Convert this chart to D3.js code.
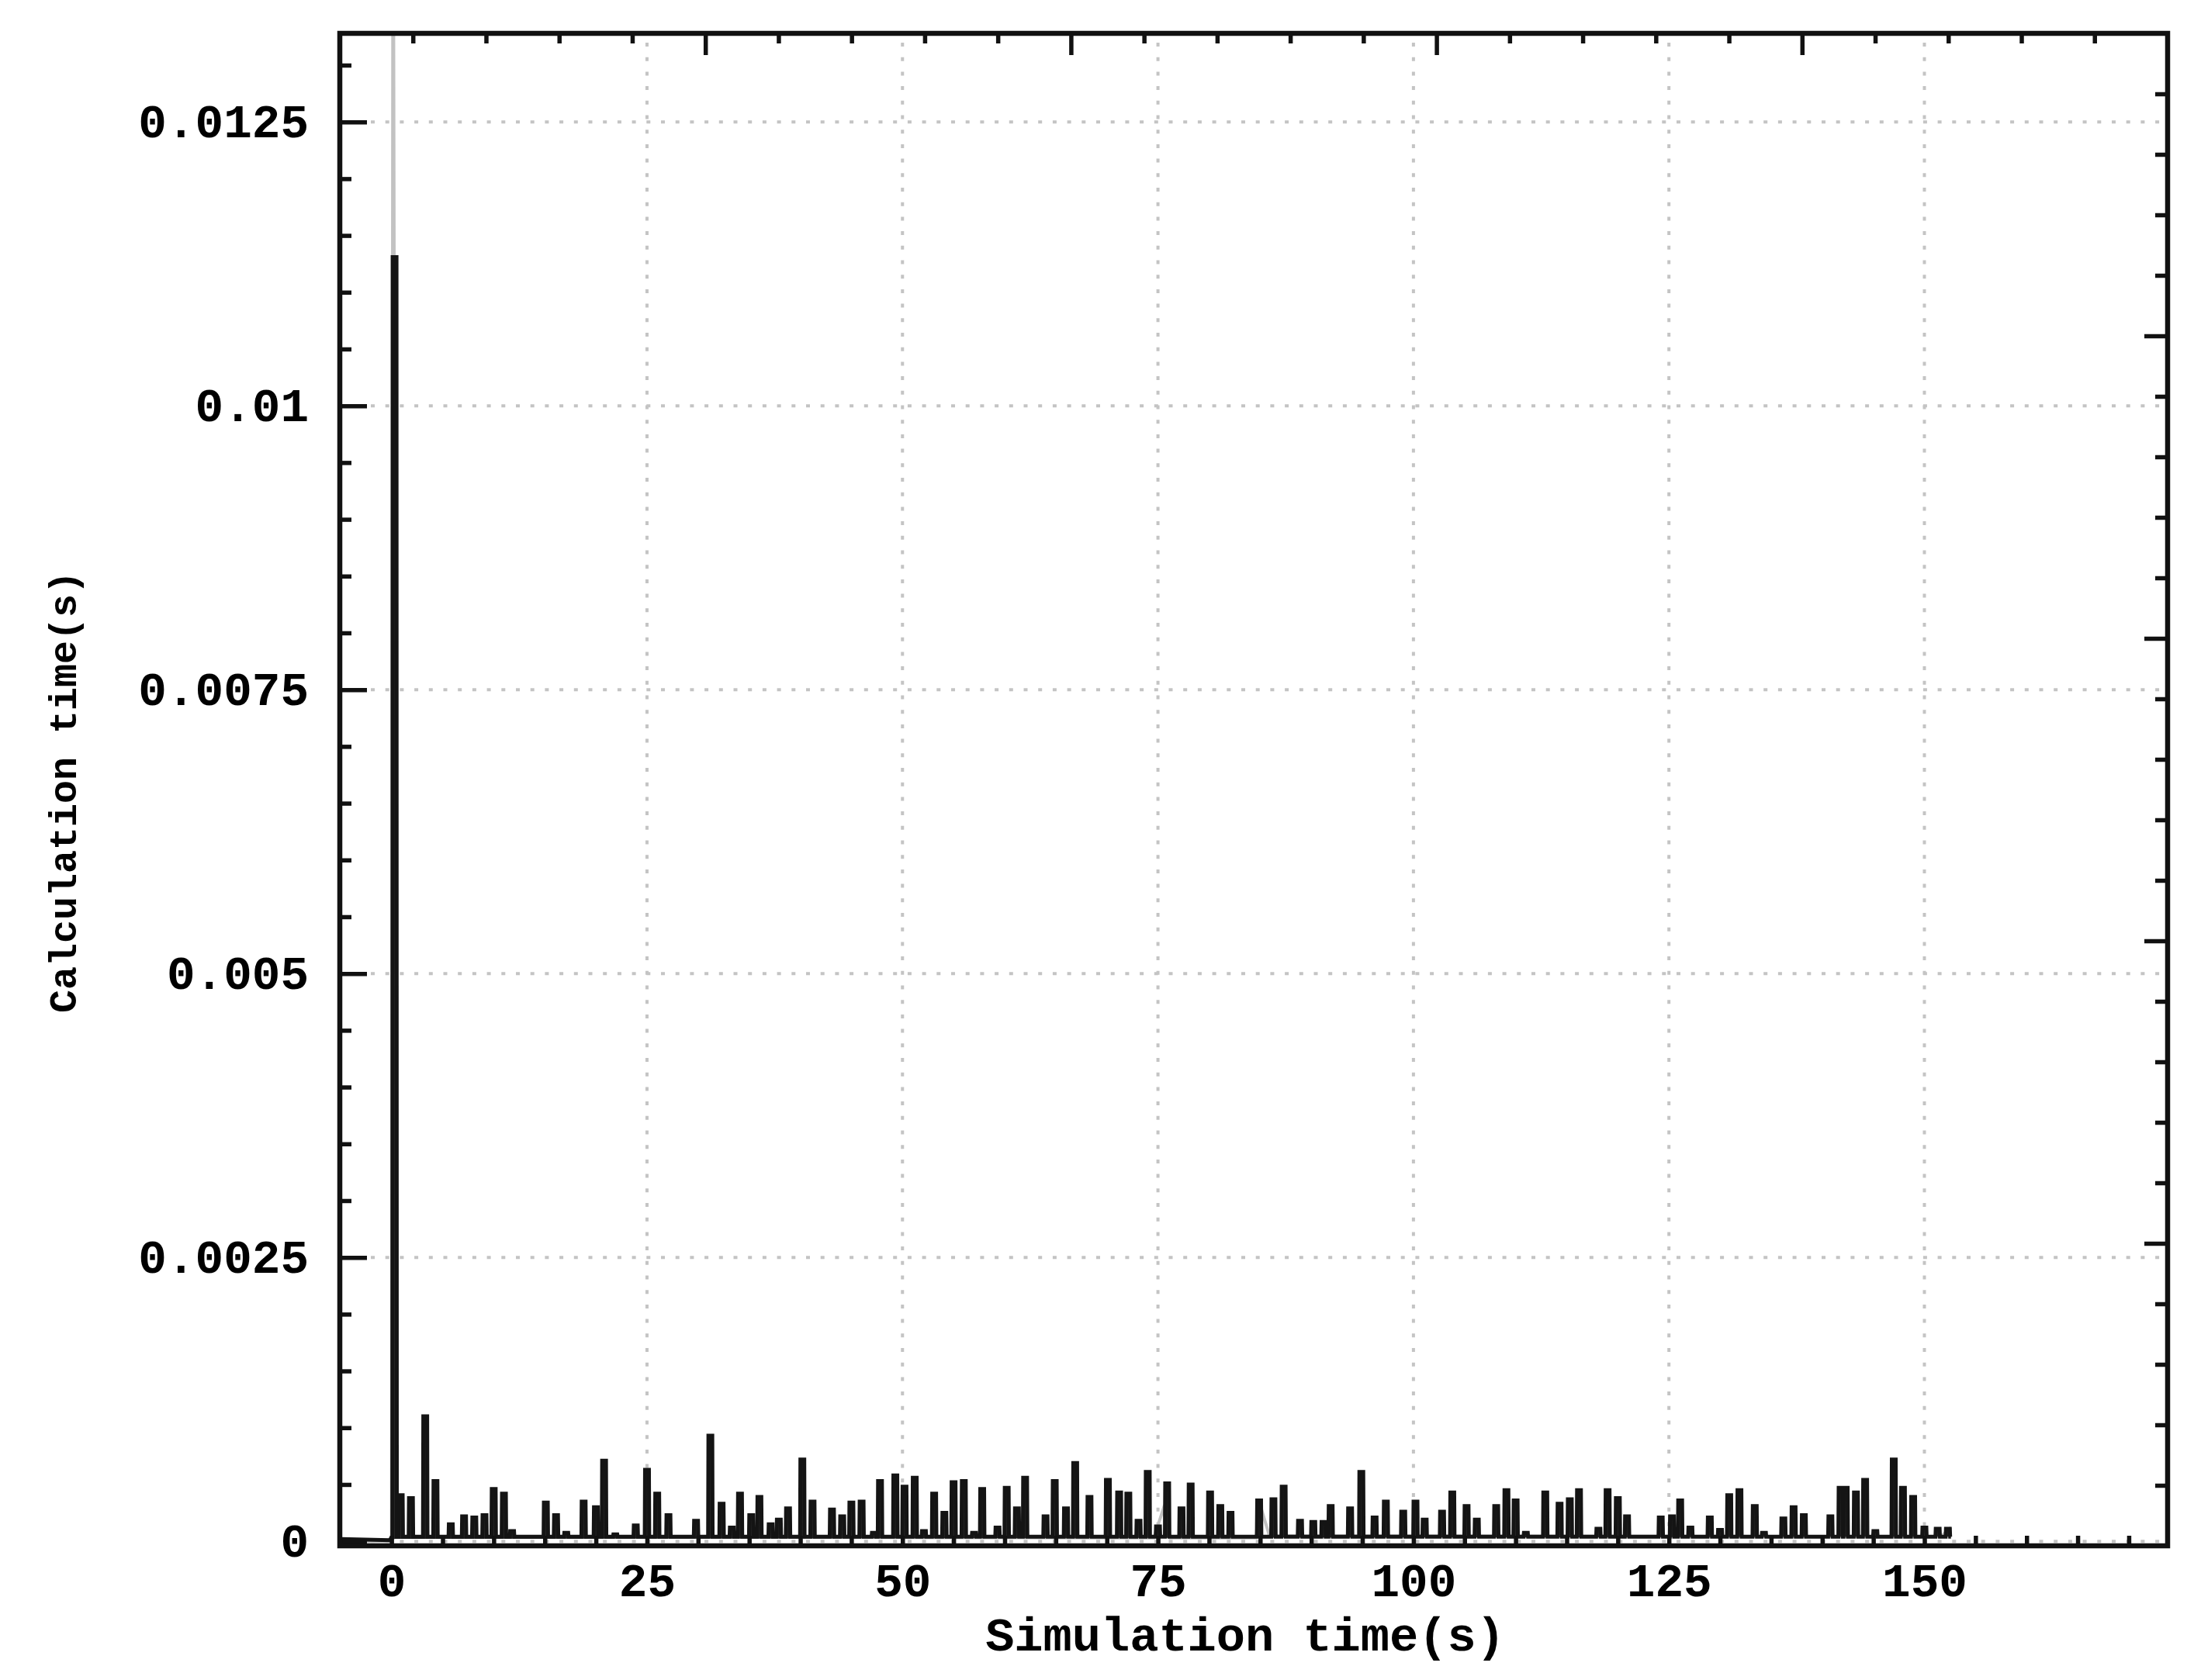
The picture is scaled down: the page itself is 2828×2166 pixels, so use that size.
<!DOCTYPE html>
<html>
<head>
<meta charset="utf-8">
<script src="https://cdn.jsdelivr.net/npm/d3@7"></script>
<style>
  html, body { margin: 0; padding: 0; background: #ffffff; }
  svg { display: block; }
  text { font-family: "Liberation Mono", "DejaVu Sans Mono", monospace; fill: #000; font-weight: bold; }
</style>
</head>
<body>
<script>
// ---------------- data ----------------
const xTickValues = [0, 25, 50, 75, 100, 125, 150];
const xTickLabels = ["0", "25", "50", "75", "100", "125", "150"];
const yTickValues = [0, 0.0025, 0.005, 0.0075, 0.01, 0.0125];
const yTickLabels = ["0", "0.0025", "0.005", "0.0075", "0.01", "0.0125"];
const xTitle = "Simulation time(s)";
const yTitle = "Calculation time(s)";

// black series: spike times (s) and peak calculation times (s)
const spikeTimes = [0.3, 0.9, 1.9, 3.3, 4.3, 5.8, 7.1, 8.1, 9.1, 10.0, 11.0, 11.8,
  15.1, 16.1, 17.1, 18.8, 20.0, 20.8, 21.9, 23.9, 25.0, 26.0, 27.1, 29.8,
  31.2, 32.3, 33.3, 34.1, 35.2, 36.0, 37.1, 37.9, 38.8, 40.2, 41.2, 43.1,
  44.1, 45.0, 46.0, 47.2, 47.8, 49.3, 50.2, 51.2, 52.1, 53.1, 54.1, 55.0,
  56.0, 57.0, 57.8, 59.3, 60.2, 61.2, 62.0, 64.0, 64.9, 66.0, 66.9, 68.3,
  70.1, 71.2, 72.1, 73.1, 74.0, 75.0, 75.9, 77.3, 78.2, 80.1, 81.1, 82.1,
  84.9, 86.3, 87.3, 88.9, 90.2, 91.2, 91.9, 93.8, 94.9, 96.2, 97.3, 99.0,
  100.2, 101.1, 102.8, 103.8, 105.2, 106.2, 108.1, 109.1, 110.0, 111.0, 112.9, 114.3,
  115.3, 116.2, 118.1, 119.0, 120.0, 120.9, 124.2, 125.3, 126.1, 127.1, 129.0, 130.0,
  130.9, 131.9, 133.4, 134.3, 136.2, 137.2, 138.2, 140.8, 141.8, 142.3, 143.3, 144.2,
  145.2, 147.0, 147.9, 148.9, 150.0, 151.3, 152.3];
const spikeValues = [0.01131, 0.000405, 0.00038, 0.0011, 0.00053, 0.00015, 0.00022, 0.00021, 0.00023, 0.00046, 0.00042, 0.00009,
  0.00034, 0.00023, 0.000075, 0.00035, 0.0003, 0.00071, 0.00006, 0.00014, 0.00063, 0.00042, 0.00023, 0.00018,
  0.00093, 0.00033, 0.00012, 0.00042, 0.00023, 0.00039, 0.00015, 0.00019, 0.00029, 0.00072, 0.00035, 0.00028,
  0.00022, 0.00034, 0.00035, 0.000075, 0.00053, 0.00058, 0.00048, 0.00056, 0.00009, 0.00042, 0.00025, 0.00052,
  0.00053, 0.000075, 0.00046, 0.00012, 0.00047, 0.00029, 0.00056, 0.00022, 0.00053, 0.00029, 0.00069, 0.00039,
  0.00054, 0.00043, 0.00042, 0.00018, 0.00061, 0.00013, 0.00051, 0.00029, 0.0005, 0.00043, 0.00031, 0.00025,
  0.00036, 0.00037, 0.00048, 0.00018, 0.00017, 0.00017, 0.00031, 0.00029, 0.00061, 0.00021, 0.00035, 0.00026,
  0.00035, 0.00019, 0.00026, 0.00043, 0.00031, 0.00019, 0.00031, 0.00045, 0.00036, 0.000075, 0.00043, 0.00033,
  0.00037, 0.00045, 0.00011, 0.00045, 0.00038, 0.00022, 0.00021, 0.00022, 0.00036, 0.00012, 0.00021, 0.0001,
  0.000405, 0.00045, 0.00031, 0.000075, 0.0002, 0.0003, 0.00023, 0.00022, 0.00047, 0.00047, 0.00043, 0.00054,
  0.00009, 0.00072, 0.00047, 0.00039, 0.00012, 0.00011, 0.00011];
const baselineLevel = 0.00004;      // level of the black trace between spikes
const seriesStart = -5.0, seriesEnd = 152.6;

// grey series (mostly hidden under the black one)
const greyTimes  = [-5.0, 0.0, 0.15, 0.5, 74.6, 75.5, 76.2, 84.6, 84.9, 85.9, 151.6, 152.6];
const greyValues = [0.0, 0.0, 0.016, 0.00004, 0.00003, 0.00028, 0.00003, 0.00003, 0.00035, 0.00005, 0.00004, 0.00012];

// ---------------- layout ----------------
const W = 2828, H = 2166;
const L = 438, R = 2794, T = 43, B = 1993;

const x = d3.scaleLinear().domain([-5.06, 173.8]).range([L, R]);
const y = d3.scaleLinear().domain([-0.00004, 0.01328]).range([B, T]);

const svg = d3.select("body").append("svg")
  .attr("width", W).attr("height", H)
  .attr("viewBox", `0 0 ${W} ${H}`);

svg.append("rect").attr("width", W).attr("height", H).attr("fill", "#fff");

svg.append("clipPath").attr("id", "plotclip")
  .append("rect").attr("x", L).attr("y", T).attr("width", R - L).attr("height", B - T);

// ---------------- grid ----------------
const grid = svg.append("g").attr("stroke", "#c4c4c4").attr("stroke-width", 4)
  .attr("stroke-dasharray", "5,13.7");
grid.selectAll("line.h").data(yTickValues).join("line")
  .attr("class", "h")
  .attr("x1", L + 40).attr("x2", R)
  .attr("y1", d => y(d)).attr("y2", d => y(d));
grid.selectAll("line.v").data(xTickValues.filter(d => d > 0)).join("line")
  .attr("class", "v")
  .attr("y1", T + 12).attr("y2", B)
  .attr("x1", d => x(d)).attr("x2", d => x(d));

// ---------------- data ----------------
const dataG = svg.append("g").attr("clip-path", "url(#plotclip)");

const line = d3.line().x(d => x(d[0])).y(d => y(d[1]));

const greyPts = greyTimes.map((t, i) => [t, greyValues[i]]);
dataG.append("path").datum(greyPts)
  .attr("d", line)
  .attr("fill", "none").attr("stroke", "#c2c2c2").attr("stroke-width", 4);

// black trace: baseline with narrow up/down spikes
const blackPts = [[seriesStart, 0.00002], [-0.2, 0.00001]];
spikeTimes.forEach((t, i) => {
  const v = spikeValues[i];
  blackPts.push([t - 0.22, baselineLevel]);
  blackPts.push([t - 0.19, v]);
  blackPts.push([t + 0.19, v]);
  blackPts.push([t + 0.22, baselineLevel]);
});
blackPts.push([seriesEnd, baselineLevel]);

dataG.append("path").datum(blackPts)
  .attr("d", line)
  .attr("fill", "#2a2a2a").attr("stroke", "#141414").attr("stroke-width", 5)
  .attr("stroke-linejoin", "miter");

// ---------------- axes ----------------
const tickStroke = 5.5;
function styleAxis(g) {
  g.select(".domain").remove();
  g.selectAll(".tick line").attr("stroke", "#111").attr("stroke-width", tickStroke);
  g.selectAll(".tick text").attr("font-size", 61).attr("fill", "#000");
}

// left: minor ticks
const yMinor = d3.range(0, 0.01328, 0.0005).filter(v => Math.abs(v / 0.0025 - Math.round(v / 0.0025)) > 1e-6);
svg.append("g").attr("transform", `translate(${L},0)`)
  .call(d3.axisLeft(y).tickValues(yMinor).tickSizeInner(-15).tickSizeOuter(0).tickFormat(""))
  .call(styleAxis);
// left: major ticks + labels
svg.append("g").attr("transform", `translate(${L},0)`)
  .call(d3.axisLeft(y).tickValues(yTickValues).tickSizeInner(-35).tickSizeOuter(0).tickPadding(40)
    .tickFormat((d, i) => yTickLabels[i]))
  .call(styleAxis);

// bottom: ticks every 5 s
const xMinor = d3.range(0, 171, 5);
svg.append("g").attr("transform", `translate(0,${B})`)
  .call(d3.axisBottom(x).tickValues(xMinor).tickSizeInner(-13).tickSizeOuter(0).tickFormat(""))
  .call(styleAxis);
svg.append("g").attr("transform", `translate(0,${B})`)
  .call(d3.axisBottom(x).tickValues(xTickValues).tickSizeInner(0).tickSizeOuter(0).tickPadding(22)
    .tickFormat((d, i) => xTickLabels[i]))
  .call(styleAxis);

// top and right: evenly divided decorative ticks, every fifth one longer
const xTop = d3.scaleLinear().domain([0, 25]).range([L, R]);
const topMinor = d3.range(1, 25).filter(d => d % 5 !== 0);
const topMajor = d3.range(5, 25, 5);
svg.append("g").attr("transform", `translate(0,${T})`)
  .call(d3.axisTop(xTop).tickValues(topMinor).tickSizeInner(-13).tickSizeOuter(0).tickFormat(""))
  .call(styleAxis);
svg.append("g").attr("transform", `translate(0,${T})`)
  .call(d3.axisTop(xTop).tickValues(topMajor).tickSizeInner(-28).tickSizeOuter(0).tickFormat(""))
  .call(styleAxis);
const yRight = d3.scaleLinear().domain([0, 25]).range([B, T]);
svg.append("g").attr("transform", `translate(${R},0)`)
  .call(d3.axisRight(yRight).tickValues(topMinor).tickSizeInner(-16).tickSizeOuter(0).tickFormat(""))
  .call(styleAxis);
svg.append("g").attr("transform", `translate(${R},0)`)
  .call(d3.axisRight(yRight).tickValues(topMajor).tickSizeInner(-30).tickSizeOuter(0).tickFormat(""))
  .call(styleAxis);

// frame
svg.append("rect").attr("x", L).attr("y", T).attr("width", R - L).attr("height", B - T)
  .attr("fill", "none").attr("stroke", "#111").attr("stroke-width", 6.5);

// titles
svg.append("text").attr("x", 1605).attr("y", 2128)
  .attr("text-anchor", "middle").attr("font-size", 62).text(xTitle);
svg.append("text")
  .attr("transform", "translate(98,1021) rotate(-90)")
  .attr("text-anchor", "middle").attr("font-size", 50).text(yTitle);
</script>
</body>
</html>
